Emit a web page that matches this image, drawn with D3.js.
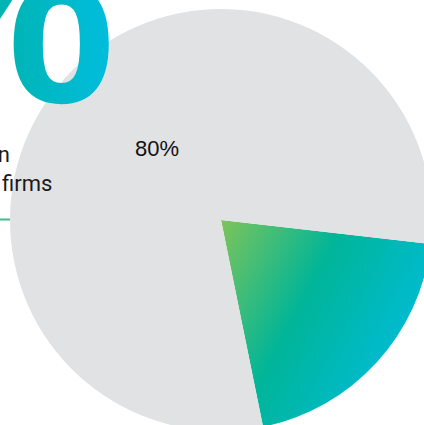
<!DOCTYPE html>
<html>
<head>
<meta charset="utf-8">
<script src="https://cdn.jsdelivr.net/npm/d3@7"></script>
<style>
html,body{margin:0;padding:0;background:#fff;overflow:hidden;}
svg{display:block;}
</style>
</head>
<body>
<svg id="chart" width="424" height="425"></svg>
<script>
const categories = ["Share A", "Share B"];
const values = [20, 80];
const sliceLabels = ["", "80%"];
const headline = "20%";
const captionLines = ["n", "firms"];

const W = 424, H = 425;
const svg = d3.select("#chart");
const defs = svg.append("defs");

const g1 = defs.append("linearGradient").attr("id","bigGrad")
  .attr("gradientUnits","userSpaceOnUse")
  .attr("x1",0).attr("y1",0).attr("x2",110).attr("y2",0);
g1.append("stop").attr("offset","0").attr("stop-color","#00b4b2");
g1.append("stop").attr("offset","1").attr("stop-color","#00bddd");

const cx = 221, cy = 220, R = 211;

const g2 = defs.append("linearGradient").attr("id","sliceGrad")
  .attr("gradientUnits","userSpaceOnUse")
  .attr("x1",0).attr("y1",0).attr("x2",203).attr("y2",108);
g2.append("stop").attr("offset","0").attr("stop-color","#7ec45a");
g2.append("stop").attr("offset","0.48").attr("stop-color","#00b598");
g2.append("stop").attr("offset","1").attr("stop-color","#00bcd8");

// rule behind pie
svg.append("line").attr("x1",0).attr("x2",60).attr("y1",219.5).attr("y2",219.5)
  .attr("stroke","#3cbf8c").attr("stroke-width",2);

// pie
const start = 96.5 * Math.PI / 180;
const pie = d3.pie().sort(null).value(d => d).startAngle(start).endAngle(start + 2*Math.PI);
const arc = d3.arc().innerRadius(0).outerRadius(R);
const arcs = pie(values);
const fills = ["url(#sliceGrad)", "#e1e2e4"];

const pg = svg.append("g").attr("transform", `translate(${cx},${cy})`);
pg.selectAll("path").data(arcs).join("path")
  .attr("d", arc).attr("fill", (d,i) => fills[i]);

pg.selectAll("text.lbl").data(arcs).join("text").attr("class","lbl")
  .attr("x", 157 - cx).attr("y", 156 - cy)
  .attr("text-anchor","middle")
  .attr("font-family","Liberation Sans, Arial, sans-serif")
  .attr("font-size", 22).attr("fill","#111")
  .text((d,i) => sliceLabels[i]);

// foreground text
svg.append("text")
  .attr("x", 116).attr("y", 102)
  .attr("text-anchor","end")
  .attr("font-family","Liberation Sans, Arial, sans-serif")
  .attr("font-weight","bold")
  .attr("font-size", 275)
  .attr("fill","url(#bigGrad)")
  .text(headline);

const cap = svg.append("g")
  .attr("font-family","Roboto, Liberation Sans, Arial, sans-serif")
  .attr("font-size", 22).attr("fill","#1a1a1a");
cap.append("text").attr("x", 10).attr("y", 162).attr("text-anchor","end").text(captionLines[0]);
cap.append("text").attr("x", 2).attr("y", 191).text(captionLines[1]);
</script>
</body>
</html>
